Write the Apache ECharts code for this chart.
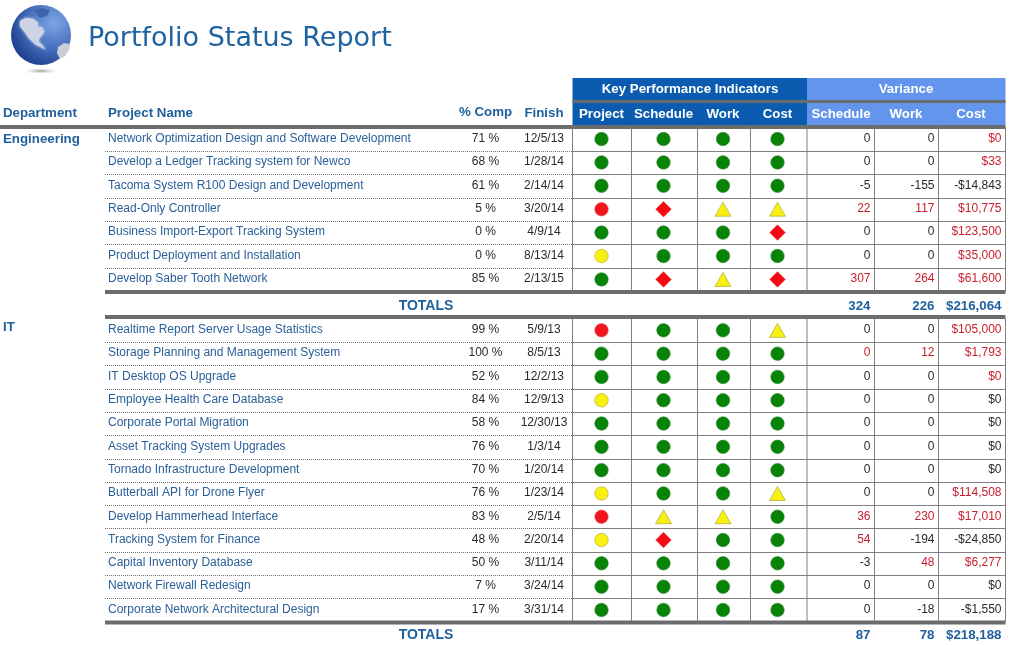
<!DOCTYPE html>
<html>
<head>
<meta charset="utf-8">
<title>Portfolio Status Report</title>
<script src="https://cdn.jsdelivr.net/npm/echarts@6/dist/echarts.min.js"></script>
<style>
  html, body { margin: 0; padding: 0; background: #fff; }
  #chart { width: 1010px; height: 645px; }
</style>
</head>
<body>
<div id="chart"></div>
<script>
// g = green circle, r = red circle, y = yellow circle, d = red diamond, t = yellow triangle
const engNames = [
  "Network Optimization Design and Software Development",
  "Develop a Ledger Tracking system for Newco",
  "Tacoma System R100 Design and Development",
  "Read-Only Controller",
  "Business Import-Export Tracking System",
  "Product Deployment and Installation",
  "Develop Saber Tooth Network"
];
const engComp = [71, 68, 61, 5, 0, 0, 85];
const engFinish = ["12/5/13", "1/28/14", "2/14/14", "3/20/14", "4/9/14", "8/13/14", "2/13/15"];
const engKpiProject = ["g", "g", "g", "r", "g", "y", "g"];
const engKpiSchedule = ["g", "g", "g", "d", "g", "g", "d"];
const engKpiWork = ["g", "g", "g", "t", "g", "g", "t"];
const engKpiCost = ["g", "g", "g", "t", "d", "g", "d"];
const engVarSchedule = [0, 0, -5, 22, 0, 0, 307];
const engVarWork = [0, 0, -155, 117, 0, 0, 264];
const engVarCost = [0, 33, -14843, 10775, 123500, 35000, 61600];
const engRedSchedule = [0, 0, 0, 1, 0, 0, 1];
const engRedWork = [0, 0, 0, 1, 0, 0, 1];
const engRedCost = [1, 1, 0, 1, 1, 1, 1];
const engTotals = [324, 226, 216064];

const itNames = [
  "Realtime Report Server Usage Statistics",
  "Storage Planning and Management System",
  "IT Desktop OS Upgrade",
  "Employee Health Care Database",
  "Corporate Portal Migration",
  "Asset Tracking System Upgrades",
  "Tornado Infrastructure Development",
  "Butterball API for Drone Flyer",
  "Develop Hammerhead Interface",
  "Tracking System for Finance",
  "Capital Inventory Database",
  "Network Firewall Redesign",
  "Corporate Network Architectural Design"
];
const itComp = [99, 100, 52, 84, 58, 76, 70, 76, 83, 48, 50, 7, 17];
const itFinish = ["5/9/13", "8/5/13", "12/2/13", "12/9/13", "12/30/13", "1/3/14", "1/20/14", "1/23/14", "2/5/14", "2/20/14", "3/11/14", "3/24/14", "3/31/14"];
const itKpiProject = ["r", "g", "g", "y", "g", "g", "g", "y", "r", "y", "g", "g", "g"];
const itKpiSchedule = ["g", "g", "g", "g", "g", "g", "g", "g", "t", "d", "g", "g", "g"];
const itKpiWork = ["g", "g", "g", "g", "g", "g", "g", "g", "t", "g", "g", "g", "g"];
const itKpiCost = ["t", "g", "g", "g", "g", "g", "g", "t", "g", "g", "g", "g", "g"];
const itVarSchedule = [0, 0, 0, 0, 0, 0, 0, 0, 36, 54, -3, 0, 0];
const itVarWork = [0, 12, 0, 0, 0, 0, 0, 0, 230, -194, 48, 0, -18];
const itVarCost = [105000, 1793, 0, 0, 0, 0, 0, 114508, 17010, -24850, 6277, 0, -1550];
const itRedSchedule = [0, 1, 0, 0, 0, 0, 0, 0, 1, 1, 0, 0, 0];
const itRedWork = [0, 1, 0, 0, 0, 0, 0, 0, 1, 0, 1, 0, 0];
const itRedCost = [1, 1, 1, 0, 0, 0, 0, 1, 1, 0, 1, 0, 0];
const itTotals = [87, 78, 218188];

const groupHeaders = ["Key Performance Indicators", "Variance"];
const kpiHeaders = ["Project", "Schedule", "Work", "Cost"];
const varHeaders = ["Schedule", "Work", "Cost"];
const leftHeaders = ["Department", "Project Name", "% Comp", "Finish"];

// layout, x axis is in page pixels
const colEdges = [572.5, 631.5, 697.5, 750.5, 807, 874.5, 938.5, 1005.5];
const kpiCenters = [601.5, 663.5, 723, 777.5];
const varHeadCenters = [841, 906, 971];
const varRights = [870.5, 934.5, 1001.5];
const nameX = 108;
const compX = 485.5;
const finishX = 544;
const ruleLeft = 105;

const BLUE = "#1f5f9c";
const NAME_BLUE = "#2b6099";
const INK = "#2a2a2a";
const RED = "#c8202e";
const RULE = "#808080";
const THICK = "#6c6c6c";
const KPI_BLUE = "#0b5cb0";
const VAR_BLUE = "#6495ed";
const FONT = '"Liberation Sans", Arial, sans-serif';

const money = v => (v < 0 ? "-$" : "$") + Math.abs(v).toLocaleString("en-US");

const textSeries = (gridIndex, items) => ({
  type: "custom",
  xAxisIndex: gridIndex,
  yAxisIndex: gridIndex,
  silent: true,
  clip: false,
  z: 5,
  data: items.map((d, i) => [d.x, d.row, i]),
  renderItem: (params, api) => {
    const d = items[params.dataIndex];
    const p = api.coord([d.x, d.row]);
    return {
      type: "text",
      x: p[0],
      y: p[1] + (d.dy === undefined ? -0.5 : d.dy),
      style: {
        text: d.text,
        fill: d.color || INK,
        font: d.font || "12px " + FONT,
        align: d.align || "center",
        verticalAlign: "middle"
      }
    };
  }
});

const statusStyle = {
  g: { symbol: "circle", size: 13.5, fill: "#078307", border: "#2f8a2f" },
  r: { symbol: "circle", size: 13.5, fill: "#f0141e", border: "#e85a60" },
  y: { symbol: "circle", size: 13.5, fill: "#f8f010", border: "#b0a630" },
  d: { symbol: "diamond", size: 15.5, fill: "#f40a12", border: "#f03030" },
  t: { symbol: "triangle", size: 15.5, fill: "#f8f010", border: "#a09a30" }
};

const statusSeries = (gridIndex, column, x) => ({
  type: "scatter",
  xAxisIndex: gridIndex,
  yAxisIndex: gridIndex,
  silent: true,
  z: 4,
  data: column.map((s, i) => {
    const st = statusStyle[s];
    return {
      value: [x, i],
      symbol: st.symbol,
      symbolSize: st.symbol === "triangle" ? [16, 14] : st.size,
      itemStyle: {
        color: st.fill,
        opacity: 1,
        borderColor: st.border,
        borderWidth: 0.6
      }
    };
  })
});

// row rules, cell borders and the heavy bars of one section
const rulesSeries = (gridIndex, rowCount, topBar, bottomBar) => ({
  type: "custom",
  xAxisIndex: gridIndex,
  yAxisIndex: gridIndex,
  silent: true,
  clip: false,
  z: 2,
  data: [[0, 0]],
  renderItem: (params, api) => {
    const band = api.size([0, 1])[1];
    const top = api.coord([0, 0])[1] - band / 2;
    const bottom = top + band * rowCount;
    const children = [];
    const line = (x1, y1, x2, y2, stroke, lineWidth, lineDash) => children.push({
      type: "line",
      shape: { x1, y1, x2, y2 },
      style: { stroke, lineWidth, lineDash }
    });
    for (let i = 1; i < rowCount; i++) {
      const y = Math.round(top + band * i) + 0.5;
      line(ruleLeft, y, colEdges[0], y, "#6f6f6f", 1, [1, 1]);
      line(colEdges[0], y, colEdges[colEdges.length - 1], y, RULE, 1);
    }
    colEdges.forEach(x => line(x, top, x, bottom, RULE, 1));
    if (topBar !== null) {
      line(ruleLeft, top + topBar, colEdges[colEdges.length - 1] , top + topBar, THICK, 4);
    }
    line(ruleLeft, bottom + bottomBar, colEdges[colEdges.length - 1], bottom + bottomBar, THICK, 4);
    return { type: "group", children };
  }
});

// header bands, row 0 = group titles, row 1 = column titles
const headerBands = {
  type: "custom",
  xAxisIndex: 0,
  yAxisIndex: 0,
  silent: true,
  clip: false,
  z: 1,
  data: [[0, 0]],
  renderItem: (params, api) => {
    const rows = [api.coord([0, 0])[1], api.coord([0, 1])[1]];
    const band = api.size([0, 1])[1];
    const left = colEdges[0];
    const mid = colEdges[4];
    const right = colEdges[7];
    const bandTop = rows[0] - band / 2;
    const rect = (x, y, width, height, fill) => ({
      type: "rect",
      shape: { x, y, width, height },
      style: { fill }
    });
    return {
      type: "group",
      children: [
        rect(left, bandTop, mid - left, band * 2, KPI_BLUE),
        rect(mid, bandTop, right - mid, band * 2, VAR_BLUE),
        rect(left, bandTop + 22, right - left, 3, THICK),
        rect(0, bandTop + 47, right, 4, THICK)
      ]
    };
  }
};

const boldFont = "bold 13.3px " + FONT;
const totalsFont = "bold 14px " + FONT;

const headerItems = [
  { x: 3, row: 1, text: leftHeaders[0], font: boldFont, color: BLUE, align: "left", dy: 0.5 },
  { x: nameX, row: 1, text: leftHeaders[1], font: boldFont, color: BLUE, align: "left", dy: 0 },
  { x: compX, row: 1, text: leftHeaders[2], font: boldFont, color: BLUE, dy: -0.5 },
  { x: finishX, row: 1, text: leftHeaders[3], font: boldFont, color: BLUE, dy: 0 },
  { x: 690, row: 0, text: groupHeaders[0], font: boldFont, color: "#fff", dy: -0.5 },
  { x: 906, row: 0, text: groupHeaders[1], font: boldFont, color: "#fff", dy: -0.5 }
];
kpiHeaders.forEach((text, i) => headerItems.push({ x: kpiCenters[i], row: 1, text, font: boldFont, color: "#fff", dy: 1.5 }));
varHeaders.forEach((text, i) => headerItems.push({ x: varHeadCenters[i], row: 1, text, font: boldFont, color: "#fff", dy: 1.5 }));

const sectionItems = (dept, deptDy, names, comp, finish, vars, reds, totals, totalsDy) => {
  const items = [{ x: 3, row: 0, text: dept, font: boldFont, color: BLUE, align: "left", dy: deptDy }];
  names.forEach((name, i) => {
    items.push({ x: nameX, row: i, text: name, color: NAME_BLUE, align: "left" });
    items.push({ x: compX, row: i, text: comp[i] + " %" });
    items.push({ x: finishX, row: i, text: finish[i] });
    vars.forEach((col, c) => {
      items.push({
        x: varRights[c],
        row: i,
        text: c === 2 ? money(col[i]) : String(col[i]),
        color: reds[c][i] ? RED : INK,
        align: "right"
      });
    });
  });
  const last = names.length - 1;
  items.push({ x: 426, row: last, text: "TOTALS", font: totalsFont, color: BLUE, dy: totalsDy });
  totals.forEach((v, c) => {
    items.push({
      x: varRights[c],
      row: last,
      text: c === 2 ? money(v) : String(v),
      font: boldFont,
      color: BLUE,
      align: "right",
      dy: totalsDy
    });
  });
  return items;
};

const xAxis = gridIndex => ({ type: "value", gridIndex, min: 0, max: 1010, show: false });
const yAxis = (gridIndex, data) => ({ type: "category", gridIndex, data, inverse: true, show: false });

const kpiSeries = (gridIndex, columns) => columns.map((col, i) => statusSeries(gridIndex, col, kpiCenters[i]));

const option = {
  animation: false,
  backgroundColor: "#fff",
  title: {
    text: "Portfolio Status Report",
    left: 88,
    top: 25,
    padding: 0,
    textStyle: { color: "#1f62a0", fontSize: 27, fontWeight: "normal", fontFamily: "DejaVu Sans" }
  },
  grid: [
    { left: 0, width: 1010, top: 78, height: 47 },
    { left: 0, width: 1010, top: 127.3, height: 163.8 },
    { left: 0, width: 1010, top: 318.7, height: 302.9 }
  ],
  xAxis: [xAxis(0), xAxis(1), xAxis(2)],
  yAxis: [yAxis(0, ["group", "column"]), yAxis(1, engNames), yAxis(2, itNames)],
  graphic: [
    // globe logo
    {
      type: "rect",
      shape: { x: 26, y: 69.5, width: 30, height: 3 },
      style: {
        fill: new echarts.graphic.LinearGradient(0, 0, 1, 0, [
          { offset: 0, color: "#ffffff" },
          { offset: 0.5, color: "#b4b4b4" },
          { offset: 1, color: "#ffffff" }
        ])
      }
    },
    {
      type: "circle",
      shape: { cx: 41, cy: 35, r: 30 },
      style: {
        fill: new echarts.graphic.RadialGradient(0.72, 0.3, 0.8, [
          { offset: 0, color: "#7ea6e6" },
          { offset: 0.5, color: "#4a73c0" },
          { offset: 1, color: "#1b3d8c" }
        ])
      }
    },
    {
      type: "polygon",
      shape: { points: [[20, 21], [26, 18], [33, 19], [38, 23], [37, 28], [42, 27], [44, 32], [40, 37], [38, 41], [42, 45], [46, 50], [41, 47], [35, 44], [29, 38], [24, 31], [20, 26]] },
      style: { fill: "#cdd4e6", shadowBlur: 3, shadowColor: "#ffffff" }
    },
    {
      type: "polygon",
      shape: { points: [[34, 10], [42, 8], [50, 10], [47, 16], [40, 18]] },
      style: { fill: "#3f63ad" }
    },
    {
      type: "polygon",
      shape: { points: [[58, 47], [64, 43], [70, 44], [69, 50], [65, 56], [60, 59], [57, 53]] },
      style: { fill: "#c9cdd6" }
    }
  ],
  series: [
    headerBands,
    textSeries(0, headerItems),
    rulesSeries(1, engNames.length, null, 1),
    textSeries(1, sectionItems("Engineering", 0.5, engNames, engComp, engFinish,
      [engVarSchedule, engVarWork, engVarCost], [engRedSchedule, engRedWork, engRedCost], engTotals, 26.7)),
    ...kpiSeries(1, [engKpiProject, engKpiSchedule, engKpiWork, engKpiCost]),
    rulesSeries(2, itNames.length, -1.7, 1),
    textSeries(2, sectionItems("IT", -3, itNames, itComp, itFinish,
      [itVarSchedule, itVarWork, itVarCost], [itRedSchedule, itRedWork, itRedCost], itTotals, 25.5)),
    ...kpiSeries(2, [itKpiProject, itKpiSchedule, itKpiWork, itKpiCost])
  ]
};

const chart = echarts.init(document.getElementById("chart"));
chart.setOption(option);
</script>
</body>
</html>
